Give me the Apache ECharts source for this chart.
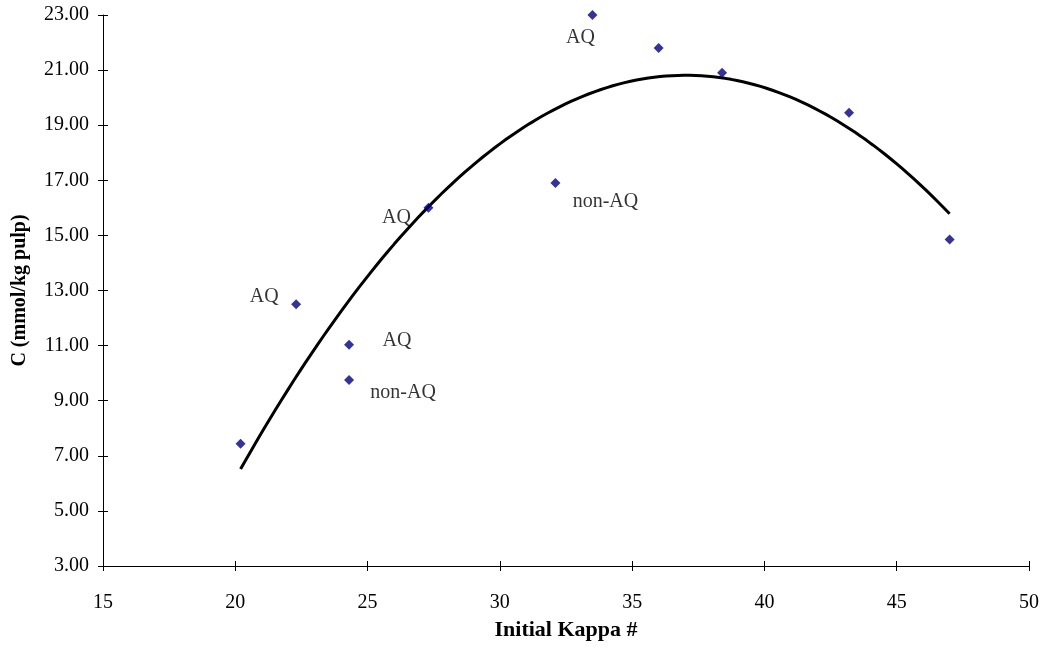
<!DOCTYPE html>
<html>
<head>
<meta charset="utf-8">
<script src="https://cdn.jsdelivr.net/npm/echarts@6/dist/echarts.min.js"></script>
<style>
  html, body { margin: 0; padding: 0; background: #fff; }
  #chart { width: 1045px; height: 659px; }
</style>
</head>
<body>
<div id="chart"></div>
<script>
// Initial kappa number vs. C (mmol/kg pulp)
const kappa = [20.2, 22.3, 24.3, 24.3, 27.3, 32.1, 33.5, 36.0, 38.4, 43.2, 47.0];
const cValues = [7.44, 12.5, 11.03, 9.75, 16.0, 16.9, 23.0, 21.8, 20.9, 19.45, 14.85];
const pointLabels = ['', 'AQ', 'AQ', 'non-AQ', 'AQ', 'non-AQ', 'AQ', '', '', '', ''];
// label centre offsets from each marker, in px
const labelOffsets = [null, [-32, -8], [48, -4], [54, 13], [-32, 10], [50, 19], [-12, 23], null, null, null, null];

const xTicks = { min: 15, max: 50, interval: 5 };
const yTicks = { min: 3, max: 23, interval: 2 };

// second-order polynomial least-squares trend line
function quadFit(xs, ys) {
  let s = [0, 0, 0, 0, 0], t = [0, 0, 0];
  for (let i = 0; i < xs.length; i++) {
    let p = 1;
    for (let k = 0; k < 5; k++) { s[k] += p; if (k < 3) t[k] += p * ys[i]; p *= xs[i]; }
  }
  const A = [[s[0], s[1], s[2], t[0]], [s[1], s[2], s[3], t[1]], [s[2], s[3], s[4], t[2]]];
  for (let c = 0; c < 3; c++) {
    for (let r = c + 1; r < 3; r++) {
      const f = A[r][c] / A[c][c];
      for (let k = c; k < 4; k++) A[r][k] -= f * A[c][k];
    }
  }
  const coef = [0, 0, 0];
  for (let r = 2; r >= 0; r--) {
    let v = A[r][3];
    for (let k = r + 1; k < 3; k++) v -= A[r][k] * coef[k];
    coef[r] = v / A[r][r];
  }
  return coef;
}
const coef = quadFit(kappa, cValues);
const xLo = Math.min(...kappa), xHi = Math.max(...kappa);
const trend = [];
for (let i = 0; i <= 120; i++) {
  const x = xLo + (xHi - xLo) * i / 120;
  trend.push([x, coef[0] + coef[1] * x + coef[2] * x * x]);
}

const serif = '"Liberation Serif", "Times New Roman", serif';
const axisColor = '#000';

// tick-only axes sit 5px inside the plot with 10px outward ticks, so ticks cross the axis line
const chart = echarts.init(document.getElementById('chart'), null, { renderer: 'canvas' });
chart.setOption({
  animation: false,
  backgroundColor: '#fff',
  grid: { left: 103, right: 16, top: 15, bottom: 93, containLabel: false, outerBoundsMode: 'none' },
  xAxis: [
    {
      type: 'value', position: 'bottom', min: xTicks.min, max: xTicks.max, interval: xTicks.interval,
      name: 'Initial Kappa #', nameLocation: 'middle', nameGap: 53,
      nameTextStyle: { fontFamily: serif, fontSize: 22, fontWeight: 'bold', color: '#000' },
      axisLine: { show: true, onZero: false, lineStyle: { color: axisColor, width: 1 } },
      axisTick: { show: false },
      axisLabel: { fontFamily: serif, fontSize: 20, color: '#000', margin: 27 },
      splitLine: { show: false }
    },
    {
      type: 'value', position: 'bottom', offset: -5, min: xTicks.min, max: xTicks.max, interval: xTicks.interval,
      axisLine: { show: false, onZero: false },
      axisTick: { show: true, inside: false, length: 10, lineStyle: { color: axisColor } },
      axisLabel: { show: false }, splitLine: { show: false }
    }
  ],
  yAxis: [
    {
      type: 'value', position: 'left', min: yTicks.min, max: yTicks.max, interval: yTicks.interval,
      name: 'C (mmol/kg pulp)', nameLocation: 'middle', nameGap: 73, nameRotate: 90,
      nameTextStyle: { fontFamily: serif, fontSize: 20, fontWeight: 'bold', color: '#000' },
      axisLine: { show: true, onZero: false, lineStyle: { color: axisColor, width: 1 } },
      axisTick: { show: false },
      axisLabel: { fontFamily: serif, fontSize: 20, color: '#000', margin: 14,
        formatter: v => v.toFixed(2) },
      splitLine: { show: false }
    },
    {
      type: 'value', position: 'left', offset: -5, min: yTicks.min, max: yTicks.max, interval: yTicks.interval,
      axisLine: { show: false, onZero: false },
      axisTick: { show: true, inside: false, length: 10, lineStyle: { color: axisColor } },
      axisLabel: { show: false }, splitLine: { show: false }
    }
  ],
  series: [
    {
      type: 'line',
      data: trend,
      showSymbol: false,
      smooth: false,
      lineStyle: { color: '#000', width: 3 },
      z: 2,
      silent: true
    },
    {
      type: 'scatter',
      symbol: 'diamond',
      symbolSize: 10,
      itemStyle: { color: '#000080' },
      z: 3,
      data: kappa.map((x, i) => {
        const item = { value: [x, cValues[i]] };
        if (pointLabels[i]) {
          item.label = {
            show: true, position: 'inside', align: 'center', verticalAlign: 'middle',
            offset: labelOffsets[i], formatter: pointLabels[i],
            fontFamily: serif, fontSize: 20, color: '#000'
          };
        }
        return item;
      })
    }
  ]
});
</script>
</body>
</html>
